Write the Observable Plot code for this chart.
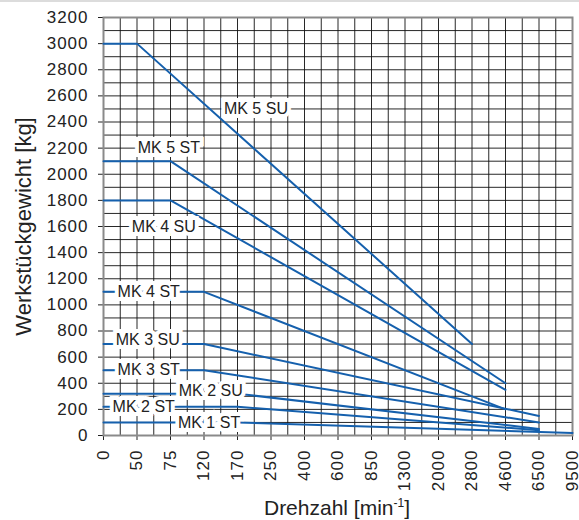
<!DOCTYPE html>
<html>
<head>
<meta charset="utf-8">
<script src="https://cdn.jsdelivr.net/npm/d3@7"></script>
<script src="https://cdn.jsdelivr.net/npm/@observablehq/plot@0.6"></script>
<style>
  html, body { margin: 0; padding: 0; background: #fff; }
  #wrap { position: relative; width: 579px; height: 518px; border-top: 2px solid #dcdcdc; font-family: "Liberation Sans", Arial, Helvetica, sans-serif; color: #222; }
  #xlabel { position: absolute; top: 494px; left: 337px; transform: translateX(-50%); font-size: 21px; white-space: nowrap; }
  #xlabel sup { font-size: 12px; }
  #wrap svg g[aria-label*="axis"] text { font-size: 17px !important; letter-spacing: 1px !important; }
</style>
</head>
<body>
<div id="wrap"><div id="xlabel">Drehzahl [min<sup>-1</sup>]</div></div>
<script>
// Speed categories (x axis, equally spaced)
const rpm = [0, 50, 75, 120, 170, 250, 400, 600, 850, 1300, 2000, 2800, 4600, 6500, 9500];
// y ticks
const yTicks = [0, 200, 400, 600, 800, 1000, 1200, 1400, 1600, 1800, 2000, 2200, 2400, 2600, 2800, 3000, 3200];

// Series
const series   = ["MK 5 SU", "MK 5 ST", "MK 4 SU", "MK 4 ST", "MK 3 SU", "MK 3 ST", "MK 2 SU", "MK 2 ST", "MK 1 ST"];
const seriesRpm = [
  [0, 50, 2800],
  [0, 75, 4600],
  [0, 75, 4600],
  [0, 120, 4600],
  [0, 120, 6500],
  [0, 120, 6500],
  [0, 170, 6500],
  [0, 170, 6500],
  [0, 170, 9500]
];
const seriesKg = [
  [3000, 3000, 700],
  [2100, 2100, 400],
  [1800, 1800, 350],
  [1100, 1100, 200],
  [700, 700, 150],
  [500, 500, 100],
  [320, 320, 50],
  [220, 220, 40],
  [100, 100, 20]
];
// Label anchors (x in category slots, y in kg)
const labelSlot = [4.55, 1.95, 1.8, 1.35, 1.32, 1.35, 3.2, 1.2, 3.15];
const labelKg   = [2500, 2200, 1600, 1100, 730, 500, 340, 220, 100];

const lineRows = series.flatMap((s, i) =>
  seriesRpm[i].map((r, j) => ({series: s, slot: rpm.indexOf(r), kg: seriesKg[i][j]})));
const labelRows = series.map((s, i) => ({text: s, slot: labelSlot[i], kg: labelKg[i]}));

const xGrid = d3.range(0, rpm.length - 0.99, 0.5);
const yGrid = d3.range(0, 3201, 100);
const blue = "#1560ad";

const chart = Plot.plot({
  width: 579,
  height: 518,
  marginLeft: 103,
  marginRight: 7,
  marginTop: 15,
  marginBottom: 85,
  style: {fontFamily: "'Liberation Sans', Arial, Helvetica, sans-serif", fontSize: "17px", color: "#222", background: "white"},
  x: {domain: [0, rpm.length - 1], ticks: d3.range(rpm.length), tickFormat: i => String(rpm[i]), tickRotate: -90, tickSize: 5, tickPadding: 9, label: null},
  y: {domain: [0, 3200], ticks: yTicks, tickFormat: d => String(d), tickSize: 5, tickPadding: 10, label: null},
  marks: [
    Plot.ruleX(xGrid, {stroke: "#111", strokeWidth: 1, strokeOpacity: 0.9}),
    Plot.ruleY(yGrid, {stroke: "#111", strokeWidth: 1, strokeOpacity: 0.9}),
    Plot.frame({stroke: "#8a8a8a", strokeWidth: 2}),
    Plot.line(lineRows, {x: "slot", y: "kg", z: "series", stroke: blue, strokeWidth: 2}),
    Plot.text(labelRows, {x: "slot", y: "kg", text: "text", fontSize: 16, fill: "#222", stroke: "white", strokeWidth: 8, paintOrder: "stroke", strokeLinejoin: "miter"}),
    Plot.text(["Werkstückgewicht [kg]"], {frameAnchor: "left", textAnchor: "middle", rotate: -90, dx: -80, fontSize: 22, fill: "#222"})
  ]
});
document.getElementById("wrap").prepend(chart);
</script>
</body>
</html>
